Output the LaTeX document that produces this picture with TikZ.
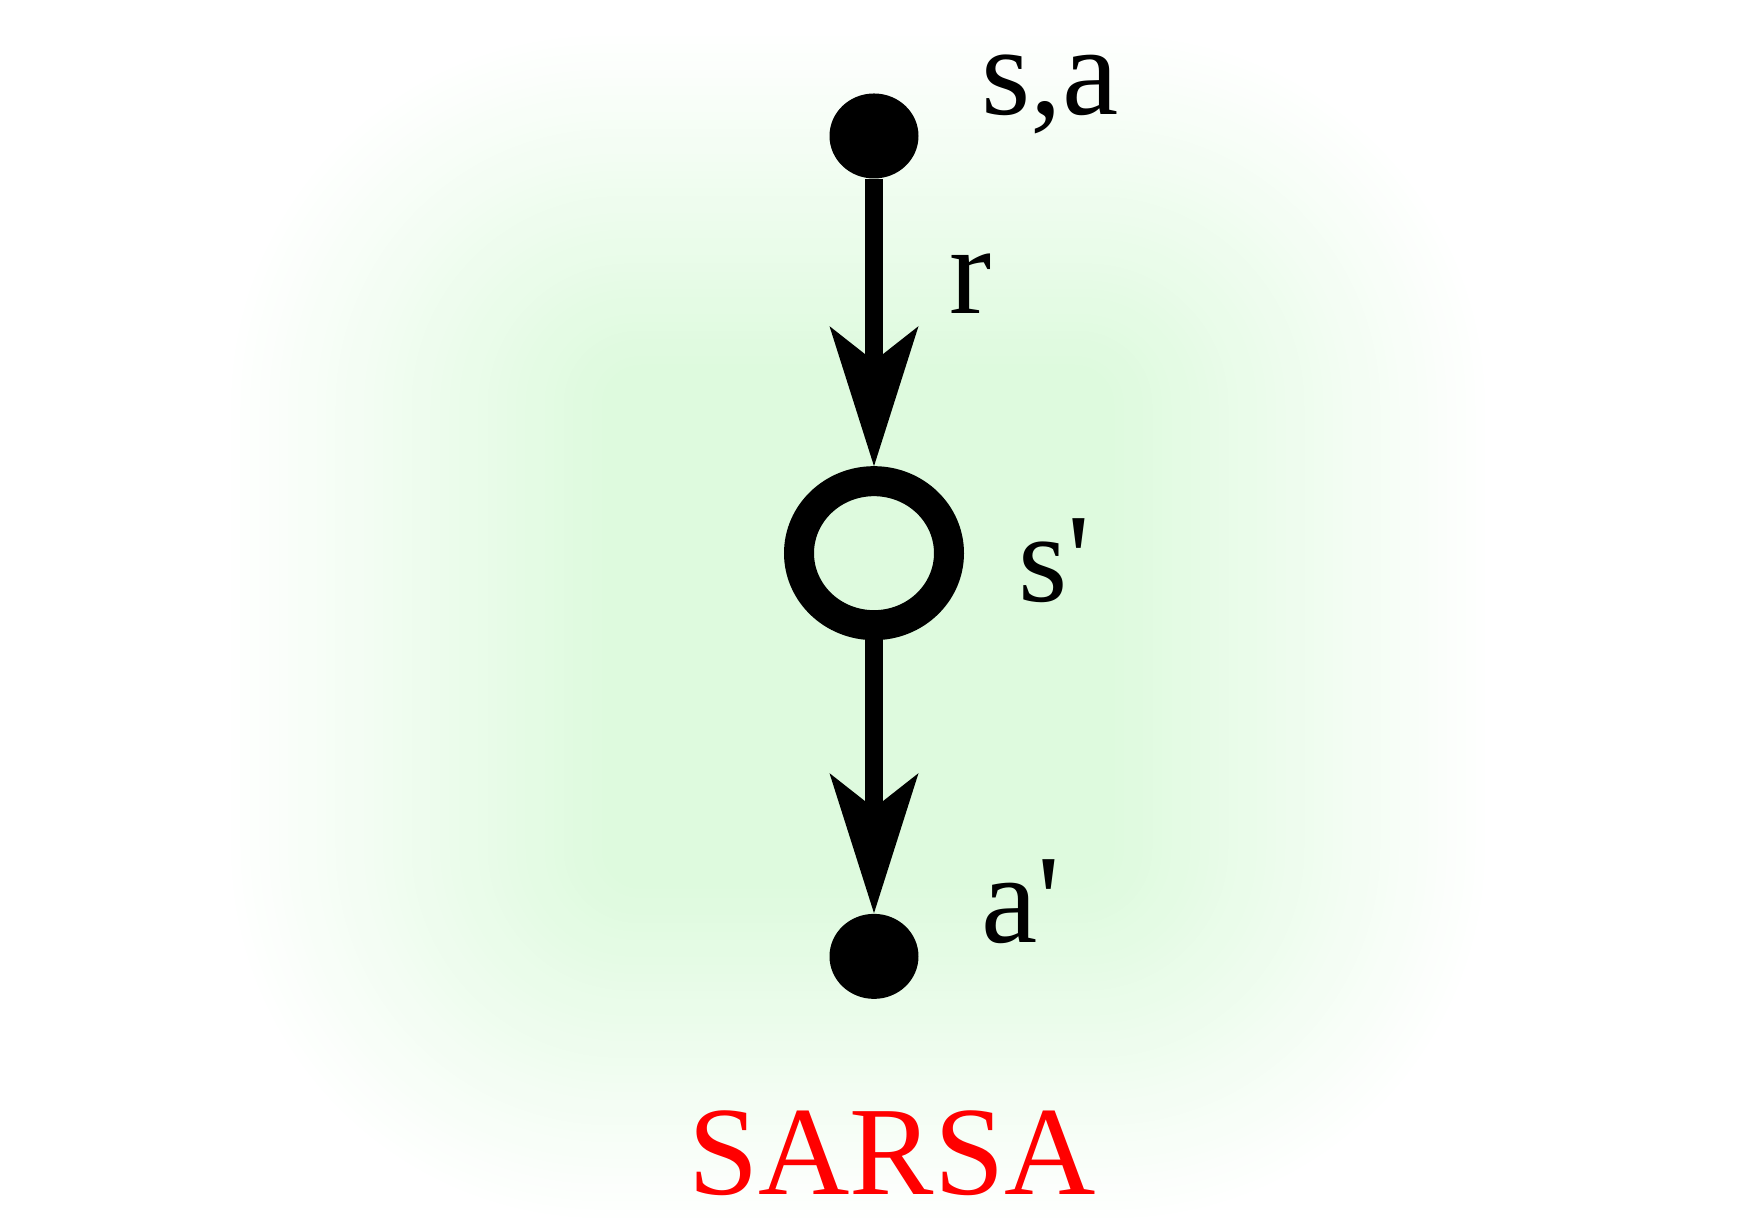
\documentclass[tikz,border=0pt]{standalone}
\usepackage{fontspec}
\setmainfont{Liberation Serif}
\usepackage{xcolor}
\usepackage{tikz}
\usetikzlibrary{arrows.meta, positioning, calc, shapes.geometric}

\definecolor{glowgreen}{RGB}{222,250,222}
\definecolor{sarsared}{RGB}{255,0,0}

\begin{document}
\begin{tikzpicture}[
  every node/.style={font=\fontsize{36}{40}\selectfont},
  dot/.style={
    ellipse, fill=black, inner sep=0pt,
    minimum width=8.9mm, minimum height=8.5mm,
  },
  ring/.style={
    ellipse, draw=black, line width=3mm, inner sep=0pt,
    minimum width=15mm, minimum height=14.4mm,
  },
  flow/.style={-{Stealth[length=14mm, width=8.9mm, inset=3.5mm, line width=0pt]}, line width=1.8mm},
  lbl/.style={inner sep=0pt, anchor=base west},
]
  \useasboundingbox (0,0) rectangle (17.48,12.28);

  % soft green glow behind the backup diagram
  \coordinate (glow) at (8.58,6.01);
  \foreach \k in {0,...,40} {
    \pgfmathsetmacro{\t}{\k/40}
    \pgfmathsetmacro{\pct}{100*\t}
    \pgfmathsetmacro{\hw}{2.56+3.8*(1-\t)}
    \pgfmathsetmacro{\hh}{2.62+3.37*(1-\t)}
    \pgfmathsetmacro{\rr}{0.4+3.4*(1-\t)}
    \fill[glowgreen!\pct!white, rounded corners=\rr cm]
      ($(glow)+(-\hw,-\hh)$) rectangle ($(glow)+(\hw,\hh)$);
  }

  \node[dot] (top) at (8.74,10.92) {};
  \node[ring, below=2.87cm of top] (mid) {};
  \node[dot, below=2.73cm of mid] (bot) {};

  \draw[flow] (top) -- (mid);
  \draw[flow] (mid) -- (bot);

  \node[lbl] (lsa) at ($(top)+(1.07,0.21)$) {s,a};
  \node[lbl] (lr) at ($(top)+(0.75,-1.78)$) {r};
  \node[lbl] (ls) at ($(mid)+(1.44,-0.48)$) {s\textquotesingle};
  \node[lbl] (la) at ($(bot)+(1.07,0.14)$) {a\textquotesingle};

  \node[anchor=base, inner sep=0pt, text=sarsared] (title) at (8.92,0.33) {SARSA};
\end{tikzpicture}
\end{document}
